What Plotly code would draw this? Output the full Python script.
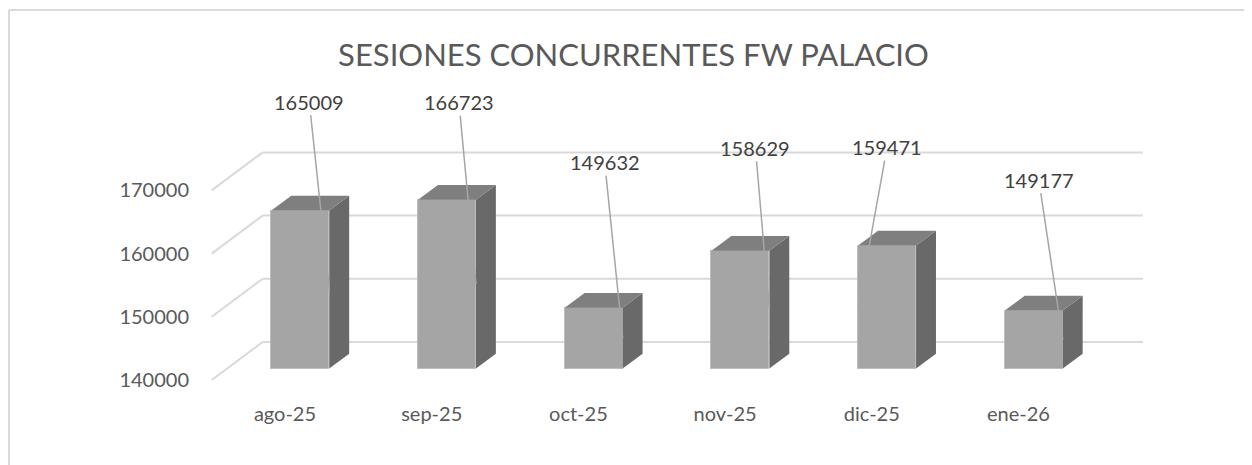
import plotly.graph_objects as go

# ---- data ----
categories = ["ago-25", "sep-25", "oct-25", "nov-25", "dic-25", "ene-26"]
values = [165009, 166723, 149632, 158629, 159471, 149177]
y_ticks = [140000, 150000, 160000, 170000]
title_text = "SESIONES CONCURRENTES FW PALACIO"

# ---- 3D oblique projection settings (layout) ----
BASE = 140000
DX = 0.3477        # depth offset in category units (front -> back wall)
DY = 6013          # depth offset in value units
D_FRONT = 0.30     # bar front-face depth
D_BACK = 0.69      # bar back-face depth
BAR_W = 0.395

FRONT = "#A5A5A5"
TOP = "#7F7F7F"
SIDE = "#696969"
GRID = "#D9D9D9"

# label offsets (pixels) for leader lines, and which edge the leader attaches to
label_ax = [-20, -17, -18, -14, 29, -24]
label_ay = [-188, -182, -176, -162, -160, -160]
label_side = [1, 1, 1, 1, -1, 1]

fig = go.Figure()

# gridlines: back wall + left side wall
shapes = []
xl, xr = -0.5, len(categories) - 0.5
for v in y_ticks:
    shapes.append(dict(type="line", xref="x", yref="y", layer="below",
                       x0=xl + DX, y0=v + DY, x1=xr + DX, y1=v + DY,
                       line=dict(color=GRID, width=2)))
    shapes.append(dict(type="line", xref="x", yref="y", layer="below",
                       x0=xl, y0=v, x1=xl + DX, y1=v + DY,
                       line=dict(color=GRID, width=2)))

# chart border: top and left edges (paper coords)
shapes.append(dict(type="line", xref="paper", yref="paper", layer="below",
                   x0=-0.18365, y0=1.0552, x1=1.05, y1=1.0552,
                   line=dict(color="#D9D9D9", width=2)))
shapes.append(dict(type="line", xref="paper", yref="paper", layer="below",
                   x0=-0.18365, y0=1.0552, x1=-0.18365, y1=-0.3,
                   line=dict(color="#D9D9D9", width=2)))

# front faces as bars
xs_front = [i + D_FRONT * DX for i in range(len(categories))]
fig.add_trace(go.Bar(
    x=xs_front, y=[v - BASE for v in values], base=BASE + D_FRONT * DY,
    width=BAR_W, marker=dict(color=FRONT, line=dict(color="#BDBDBD", width=1)),
    hoverinfo="skip", showlegend=False))

# side and top faces
ddx = (D_BACK - D_FRONT) * DX
ddy = (D_BACK - D_FRONT) * DY
for i, v in enumerate(values):
    x0 = xs_front[i] - BAR_W / 2
    x1 = xs_front[i] + BAR_W / 2
    yb = BASE + D_FRONT * DY
    yt = v + D_FRONT * DY
    fig.add_trace(go.Scatter(
        x=[x1, x1, x1 + ddx, x1 + ddx, x1], y=[yb, yt, yt + ddy, yb + ddy, yb],
        fill="toself", fillcolor=SIDE, mode="lines", line=dict(width=0, color=SIDE),
        hoverinfo="skip", showlegend=False))
    fig.add_trace(go.Scatter(
        x=[x0, x0 + ddx, x1 + ddx, x1, x0], y=[yt, yt + ddy, yt + ddy, yt, yt],
        fill="toself", fillcolor=TOP, mode="lines", line=dict(width=0, color=TOP),
        hoverinfo="skip", showlegend=False))

# value labels with leader lines
annotations = []
for i, v in enumerate(values):
    ex = xs_front[i] + label_side[i] * BAR_W / 2
    ey = (BASE + D_FRONT * DY + v + D_FRONT * DY) / 2
    annotations.append(dict(
        x=ex, y=ey, xref="x", yref="y", text=str(v),
        showarrow=True, arrowhead=0, arrowwidth=1.5, arrowcolor="#A6A6A6",
        ax=label_ax[i], ay=label_ay[i], standoff=0, borderpad=1,
        font=dict(family="Lato", size=20, color="#404040")))

fig.update_layout(
    width=1244, height=457,
    margin=dict(l=192, r=12, t=22, b=73),
    paper_bgcolor="white", plot_bgcolor="rgba(0,0,0,0)",
    title=dict(text=title_text, x=0.5028, xref="container", y=0.8972, yref="container",
               xanchor="center", yanchor="middle",
               font=dict(family="Lato", size=31, color="#595959")),
    shapes=shapes, annotations=annotations,
    xaxis=dict(range=[-0.5794, 6.5099], tickvals=list(range(len(categories))),
               ticktext=categories, showgrid=False, zeroline=False, showline=False,
               ticks="", ticklabelstandoff=8,
               tickfont=dict(family="Lato", size=20, color="#595959")),
    yaxis=dict(range=[138101, 195380], tickvals=y_ticks, showgrid=False,
               zeroline=False, showline=False, ticks="", ticklabelstandoff=10,
               tickformat="d",
               tickfont=dict(family="Lato", size=20, color="#595959")),
    showlegend=False, bargap=0,
)

fig.write_html("out.html")
